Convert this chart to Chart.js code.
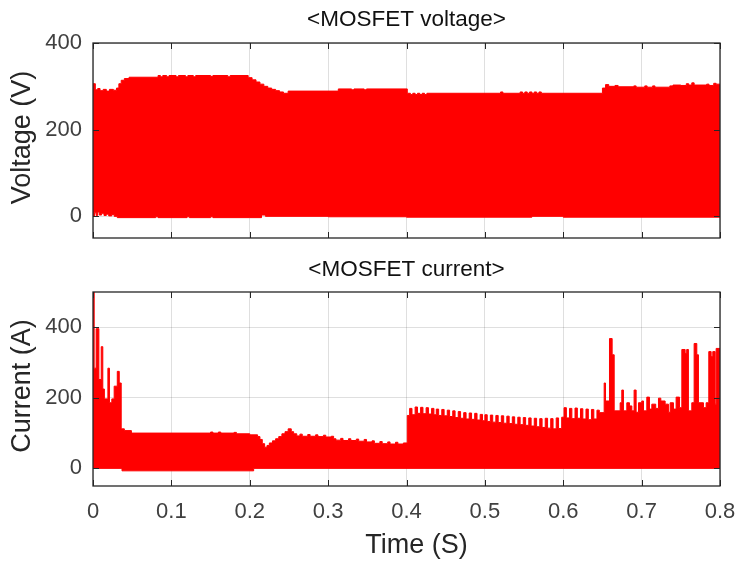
<!DOCTYPE html>
<html>
<head>
<meta charset="utf-8">
<title>MOSFET voltage and current</title>
<script src="https://cdn.jsdelivr.net/npm/chart.js@4.4.1/dist/chart.umd.min.js"></script>
<style>
  html, body { margin: 0; padding: 0; background: #ffffff; }
  #wrap { position: relative; width: 738px; height: 561px; }
  canvas { position: absolute; left: 0; }
</style>
</head>
<body>
<div id="wrap">
  <canvas id="voltageChart" width="738" height="250" style="top:0"></canvas>
  <canvas id="currentChart" width="738" height="311" style="top:250px"></canvas>
</div>
<script>
// Time axis ticks (s) and value ticks for both panels
const xTicks = [0, 0.1, 0.2, 0.3, 0.4, 0.5, 0.6, 0.7, 0.8];
const voltageTicks = [0, 200, 400];
const currentTicks = [0, 200, 400];

// Switching waveform envelopes as [time (s), value] pairs; each value holds until the next time
const voltageUpper = [
  [0, 306], [0.003, 292], [0.006, 295], [0.009, 290], [0.013, 293], [0.017, 289], [0.021, 293],
  [0.026, 291], [0.030, 296], [0.033, 306], [0.036, 314], [0.040, 318], [0.046, 321], [0.083, 325],
  [0.086, 322], [0.089, 325], [0.094, 322], [0.097, 325], [0.106, 322], [0.109, 325], [0.118, 322],
  [0.121, 325], [0.128, 322], [0.131, 325], [0.150, 323], [0.153, 325], [0.172, 322], [0.175, 325],
  [0.198, 320], [0.203, 315], [0.208, 310], [0.213, 305], [0.218, 300], [0.223, 296], [0.228, 293],
  [0.233, 290], [0.238, 287], [0.243, 284], [0.249, 289], [0.313, 294], [0.330, 292], [0.333, 294],
  [0.346, 292], [0.349, 294], [0.401, 284], [0.405, 281], [0.408, 284], [0.411, 281], [0.414, 284],
  [0.417, 281], [0.420, 284], [0.423, 281], [0.426, 284], [0.520, 287], [0.523, 284], [0.545, 287],
  [0.548, 284], [0.551, 287], [0.554, 284], [0.557, 287], [0.560, 284], [0.563, 287], [0.566, 284],
  [0.569, 287], [0.572, 284], [0.650, 296], [0.654, 304], [0.658, 300], [0.666, 302], [0.670, 299],
  [0.690, 301], [0.693, 298], [0.704, 301], [0.707, 298], [0.714, 301], [0.717, 298], [0.736, 301],
  [0.740, 303], [0.750, 302], [0.757, 306], [0.760, 303], [0.764, 308], [0.767, 303], [0.783, 305],
  [0.786, 302], [0.792, 307], [0.795, 305], [0.800, 305]
];
const voltageLower = [
  [0, 0], [0.002, 8], [0.004, 2], [0.006, 10], [0.008, 3], [0.011, 7], [0.014, 2], [0.017, 5],
  [0.020, 1], [0.024, 4], [0.027, 0], [0.031, -3], [0.080, -1], [0.083, -3], [0.120, -1], [0.123, -3],
  [0.150, -1], [0.153, -3], [0.200, -3], [0.215, 3], [0.220, 0], [0.300, -1], [0.400, -2], [0.560, 0],
  [0.600, -2], [0.800, -2]
];
const currentUpper = [
  [0, 500], [0.0015, 284], [0.004, 396], [0.0075, 252], [0.0105, 345], [0.0125, 225], [0.0145, 197],
  [0.019, 284], [0.021, 186], [0.024, 197], [0.027, 233], [0.031, 275], [0.0335, 242], [0.036, 112],
  [0.040, 107], [0.049, 100], [0.150, 103], [0.153, 100], [0.160, 103], [0.163, 100], [0.180, 102],
  [0.183, 98], [0.200, 95], [0.210, 90], [0.213, 82], [0.216, 70], [0.219, 60], [0.222, 65],
  [0.225, 72], [0.229, 78], [0.233, 84], [0.237, 90], [0.241, 98], [0.245, 104], [0.249, 112],
  [0.253, 104], [0.256, 98], [0.260, 92], [0.264, 97], [0.267, 91], [0.274, 96], [0.277, 91],
  [0.284, 95], [0.287, 90], [0.294, 94], [0.297, 89], [0.304, 91], [0.307, 84], [0.310, 80],
  [0.316, 85], [0.319, 79], [0.326, 84], [0.329, 79], [0.336, 83], [0.339, 77], [0.346, 82],
  [0.349, 75], [0.356, 78], [0.359, 71], [0.366, 76], [0.369, 70], [0.376, 75], [0.379, 69],
  [0.386, 74], [0.389, 69], [0.396, 72],
  [0.401, 150], [0.404, 170], [0.407, 152], [0.411, 174], [0.414, 156], [0.418, 173], [0.421, 155],
  [0.425, 172], [0.428, 154], [0.432, 170], [0.435, 152], [0.438, 168], [0.441, 150], [0.445, 167],
  [0.448, 149], [0.452, 165], [0.455, 147], [0.459, 163], [0.462, 144], [0.466, 161], [0.469, 142],
  [0.473, 158], [0.476, 140], [0.480, 157], [0.483, 139], [0.487, 156], [0.490, 137], [0.494, 153],
  [0.497, 135], [0.500, 152], [0.503, 133], [0.507, 151], [0.510, 131], [0.514, 150], [0.517, 130],
  [0.521, 149], [0.524, 128], [0.528, 148], [0.531, 127], [0.535, 146], [0.538, 125], [0.542, 145],
  [0.545, 124], [0.549, 144], [0.552, 122], [0.556, 143], [0.559, 120], [0.563, 142], [0.566, 118],
  [0.570, 141], [0.573, 116], [0.577, 142], [0.580, 114], [0.584, 141], [0.587, 112], [0.591, 143],
  [0.594, 113], [0.598, 145],
  [0.601, 172], [0.604, 143], [0.608, 170], [0.611, 141], [0.615, 171], [0.618, 142], [0.622, 169],
  [0.625, 140], [0.629, 168], [0.632, 138], [0.636, 167], [0.639, 140], [0.643, 165], [0.646, 158],
  [0.6522, 242], [0.6539, 191], [0.659, 368], [0.6624, 322], [0.665, 163], [0.6726, 186],
  [0.6747, 222], [0.6768, 163], [0.6811, 186], [0.6845, 177], [0.6875, 163], [0.6904, 222],
  [0.693, 159], [0.696, 186], [0.7002, 191], [0.7024, 163], [0.7066, 202], [0.710, 168],
  [0.713, 182], [0.718, 170], [0.7215, 199], [0.7245, 191], [0.730, 182], [0.7342, 159],
  [0.7364, 186], [0.7406, 168], [0.744, 202], [0.7483, 172], [0.7513, 337], [0.7555, 326],
  [0.7575, 337], [0.7597, 163], [0.764, 186], [0.767, 354], [0.7704, 322], [0.7725, 186],
  [0.7789, 172], [0.7823, 186], [0.7857, 331], [0.7887, 317], [0.7908, 331], [0.7938, 182],
  [0.7951, 340], [0.800, 340]
];
const currentLower = [
  [0, 0], [0.037, -7], [0.205, 0], [0.800, 0]
];

const RED = '#ff0000';
const AXIS_COLOR = '#262626';
const TICK_COLOR = '#404040';
const GRID_COLOR = 'rgba(38,38,38,0.15)';
const FONT = '"Liberation Sans", Arial, Helvetica, sans-serif';

const toPoints = pairs => pairs.map(([x, y]) => ({ x, y }));

// Lower envelope first, upper envelope filled down to it
function envelopeDatasets(lower, upper) {
  return [
    { data: toPoints(lower), borderColor: RED, borderWidth: 1, pointRadius: 0,
      stepped: 'before', fill: false },
    { data: toPoints(upper), borderColor: RED, backgroundColor: RED, borderWidth: 1,
      pointRadius: 0, stepped: 'before', fill: '-1' }
  ];
}

// Box around the axes, inward ticks on all four sides, panel title and axis labels
const framePlugin = {
  id: 'frame',
  afterDatasetsDraw(chart, args, opts) {
    const { ctx, chartArea: a, scales: { x, y } } = chart;
    const tl = 6;
    ctx.save();
    ctx.strokeStyle = AXIS_COLOR;
    ctx.lineWidth = 1;
    ctx.beginPath();
    x.ticks.forEach(t => {
      const px = Math.round(x.getPixelForValue(t.value)) + 0.5;
      ctx.moveTo(px, a.bottom); ctx.lineTo(px, a.bottom - tl);
      ctx.moveTo(px, a.top); ctx.lineTo(px, a.top + tl);
    });
    y.ticks.forEach(t => {
      const py = Math.round(y.getPixelForValue(t.value)) + 0.5;
      ctx.moveTo(a.left, py); ctx.lineTo(a.left + tl, py);
      ctx.moveTo(a.right, py); ctx.lineTo(a.right - tl, py);
    });
    ctx.stroke();
    ctx.lineWidth = 1.3;
    ctx.strokeRect(a.left, a.top, a.right - a.left, a.bottom - a.top);

    ctx.textAlign = 'center';
    ctx.textBaseline = 'middle';
    ctx.fillStyle = '#111111';
    ctx.font = '22.5px ' + FONT;
    ctx.fillText(opts.text, (a.left + a.right) / 2, opts.titleY);

    ctx.fillStyle = AXIS_COLOR;
    ctx.font = '27px ' + FONT;
    ctx.save();
    ctx.translate(23, (a.top + a.bottom) / 2 - 3);
    ctx.rotate(-Math.PI / 2);
    ctx.fillText(opts.yTitle, 0, 0);
    ctx.restore();
    if (opts.xTitle) {
      ctx.fillText(opts.xTitle, (a.left + a.right) / 2 + 10, opts.xTitleY);
    }
    ctx.restore();
  }
};

function panelOptions(cfg) {
  return {
    responsive: false,
    animation: false,
    events: [],
    layout: { padding: { left: 0, right: 18, top: cfg.top, bottom: 0 } },
    plugins: {
      legend: { display: false },
      tooltip: { enabled: false },
      frame: { text: cfg.title, titleY: 20, yTitle: cfg.yTitle, xTitle: cfg.xTitle, xTitleY: 296 }
    },
    scales: {
      x: {
        type: 'linear', min: 0, max: 0.8,
        afterBuildTicks: s => { s.ticks = xTicks.map(v => ({ value: v })); },
        afterFit: s => { s.height = cfg.xHeight; s.paddingLeft = 0; s.paddingRight = 0; },
        grid: { color: GRID_COLOR, lineWidth: 1, drawTicks: false },
        border: { display: false },
        ticks: {
          display: cfg.showX, padding: 13, color: TICK_COLOR,
          font: { family: FONT, size: 22 },
          callback: v => (v === 0 ? '0' : Number(v).toFixed(1))
        }
      },
      y: {
        type: 'linear', min: cfg.yMin, max: cfg.yMax,
        afterBuildTicks: s => { s.ticks = cfg.yTicks.map(v => ({ value: v })); },
        afterFit: s => { s.width = 93; s.paddingTop = 0; s.paddingBottom = 0; },
        grid: { color: GRID_COLOR, lineWidth: 1, drawTicks: false },
        border: { display: false },
        ticks: { padding: 11, color: TICK_COLOR, font: { family: FONT, size: 22 } }
      }
    }
  };
}

new Chart(document.getElementById('voltageChart'), {
  type: 'line',
  data: { datasets: envelopeDatasets(voltageLower, voltageUpper) },
  options: panelOptions({
    top: 43, xHeight: 12, showX: false, title: '<MOSFET voltage>',
    yMin: -50, yMax: 400, yTicks: voltageTicks, yTitle: 'Voltage (V)'
  }),
  plugins: [framePlugin]
});

new Chart(document.getElementById('currentChart'), {
  type: 'line',
  data: { datasets: envelopeDatasets(currentLower, currentUpper) },
  options: panelOptions({
    top: 42, xHeight: 75, showX: true, title: '<MOSFET current>',
    yMin: -50, yMax: 500, yTicks: currentTicks, yTitle: 'Current (A)', xTitle: 'Time (S)'
  }),
  plugins: [framePlugin]
});
</script>
</body>
</html>
